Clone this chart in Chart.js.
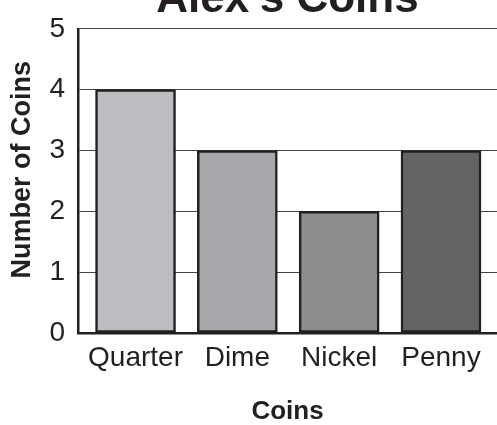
<!DOCTYPE html>
<html>
<head>
<meta charset="utf-8">
<script src="https://cdn.jsdelivr.net/npm/chart.js@4"></script>
<style>
  html, body { margin: 0; padding: 0; background: #fff; overflow: hidden; }
  #wrap { position: relative; top: -30px; width: 497px; height: 455px; }
</style>
</head>
<body>
<div id="wrap"><canvas id="myChart"></canvas></div>
<script>
const coins = ['Quarter', 'Dime', 'Nickel', 'Penny'];
const counts = [4, 3, 2, 3];
const barColors = ['#bcbdc0', '#a7a8ab', '#8b8c8e', '#636466'];
const yTicks = [0, 1, 2, 3, 4, 5];

const font = "'Liberation Sans', Arial, sans-serif";

window.addEventListener('load', () => {
    const ctx = document.getElementById('myChart').getContext('2d');
    new Chart(ctx, {
        type: 'bar',
        data: {
            datasets: [{
                data: counts.map((v, i) => ({x: i, y: v})),
                backgroundColor: barColors,
                borderColor: '#231f20',
                borderWidth: 2.5,
                borderSkipped: false,
                barThickness: 80
            }]
        },
        options: {
            responsive: true,
            maintainAspectRatio: false,
            devicePixelRatio: 1,
            animation: false,
            layout: {padding: {top: 3, right: 0, left: 0, bottom: 0}},
            plugins: {
                legend: {display: false},
                tooltip: {enabled: false},
                title: {
                    display: true,
                    text: "Alex's Coins",
                    fullSize: false,
                    color: '#231f20',
                    font: {family: font, size: 44, weight: 'bold'},
                    padding: {top: 0, bottom: 3}
                }
            },
            scales: {
                x: {
                    type: 'linear',
                    offset: false,
                    min: -0.565,
                    max: 3.55,
                    grid: {display: false, drawTicks: false},
                    border: {color: '#231f20', width: 2.5},
                    ticks: {
                        stepSize: 1,
                        includeBounds: false,
                        autoSkip: false,
                        maxRotation: 0,
                        padding: 8,
                        color: '#231f20',
                        font: {family: font, size: 28},
                        callback: v => Number.isInteger(v) ? coins[v] : ''
                    },
                    title: {
                        display: true,
                        text: 'Coins',
                        color: '#231f20',
                        font: {family: font, size: 26, weight: 'bold', lineHeight: 1},
                        padding: {top: 0, bottom: 0}
                    },
                    afterFit: s => { s.height = 92; }
                },
                y: {
                    min: 0,
                    max: 5,
                    grid: {color: '#444', lineWidth: 1, drawTicks: false},
                    border: {color: '#231f20', width: 2.5},
                    afterBuildTicks: s => { s.ticks = yTicks.map(v => ({value: v})); },
                    ticks: {
                        padding: 13,
                        color: '#231f20',
                        font: {family: font, size: 28}
                    },
                    title: {
                        display: true,
                        // leading spaces nudge the rotated title up a bit like the original
                        text: '   Number of Coins',
                        color: '#231f20',
                        font: {family: font, size: 27, weight: 'bold', lineHeight: 1},
                        padding: {top: 9, bottom: 0}
                    },
                    afterFit: s => { s.width = 78; }
                }
            }
        }
    });
});
</script>
</body>
</html>
